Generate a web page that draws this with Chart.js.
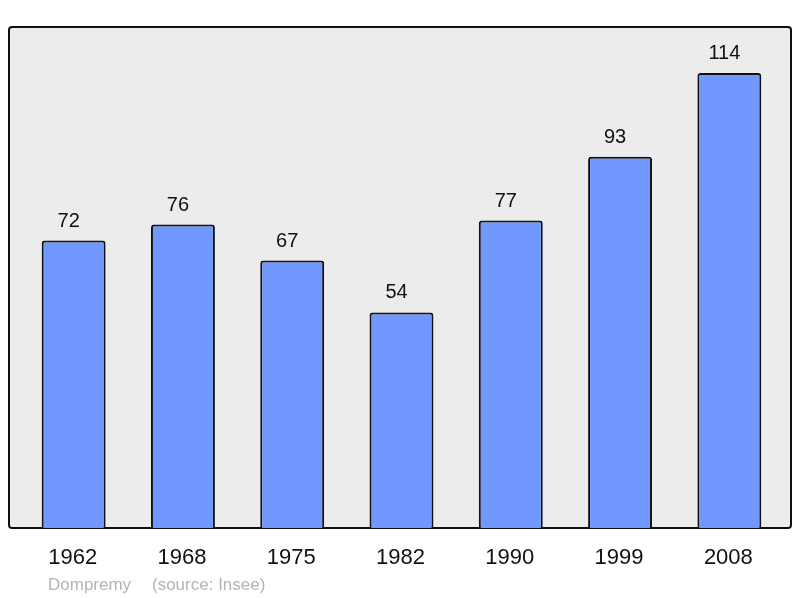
<!DOCTYPE html>
<html>
<head>
<meta charset="utf-8">
<script src="https://cdn.jsdelivr.net/npm/chart.js@4"></script>
<style>
  body { margin: 0; background: #fff; }
  canvas { display: block; }
</style>
</head>
<body>
<canvas id="popChart" width="800" height="598"></canvas>
<script>
const years = ["1962", "1968", "1975", "1982", "1990", "1999", "2008"];
const population = [72, 76, 67, 54, 77, 93, 114];
const townName = "Dompremy";
const sourceNote = "(source: Insee)";

const frame = {
  id: "frame",
  beforeDatasetsDraw(chart) {
    const ctx = chart.ctx;
    ctx.save();
    ctx.beginPath();
    ctx.roundRect(9, 27, 782, 501, 3);
    ctx.fillStyle = "#ececec";
    ctx.fill();
    ctx.lineWidth = 2;
    ctx.strokeStyle = "#111";
    ctx.stroke();
    ctx.restore();
  },
  afterDatasetsDraw(chart) {
    const ctx = chart.ctx;
    const meta = chart.getDatasetMeta(0);
    const x = chart.scales.x;
    ctx.save();
    ctx.textAlign = "center";
    ctx.fillStyle = "#111";
    // value labels sit a little left of the bar centre in the original
    ctx.font = "20px 'Liberation Sans', Arial, sans-serif";
    meta.data.forEach((bar, i) => {
      ctx.fillText(String(population[i]), bar.x - 5, bar.y - 14);
    });
    ctx.font = "22px 'Liberation Sans', Arial, sans-serif";
    years.forEach((y, i) => {
      ctx.fillText(y, x.getPixelForValue(i) - 1, 564);
    });
    ctx.textAlign = "left";
    ctx.fillStyle = "#b4b4b4";
    ctx.font = "17px 'Liberation Sans', Arial, sans-serif";
    ctx.fillText(townName, 48, 590);
    ctx.fillText(sourceNote, 152, 590);
    ctx.restore();
  }
};

new Chart(document.getElementById("popChart"), {
  type: "bar",
  data: {
    labels: years,
    datasets: [{
      data: population,
      backgroundColor: "#7098ff",
      borderColor: "#111",
      borderWidth: 2,
      borderRadius: 3,
      borderSkipped: "bottom",
      barPercentage: 0.585,
      categoryPercentage: 1
    }]
  },
  options: {
    responsive: false,
    animation: false,
    layout: { padding: { left: 19, right: 16, top: 27, bottom: 70 } },
    plugins: {
      legend: { display: false },
      tooltip: { enabled: false }
    },
    scales: {
      x: { display: false },
      y: { display: false, min: 0, max: 125.5 }
    }
  },
  plugins: [frame]
});
</script>
</body>
</html>
